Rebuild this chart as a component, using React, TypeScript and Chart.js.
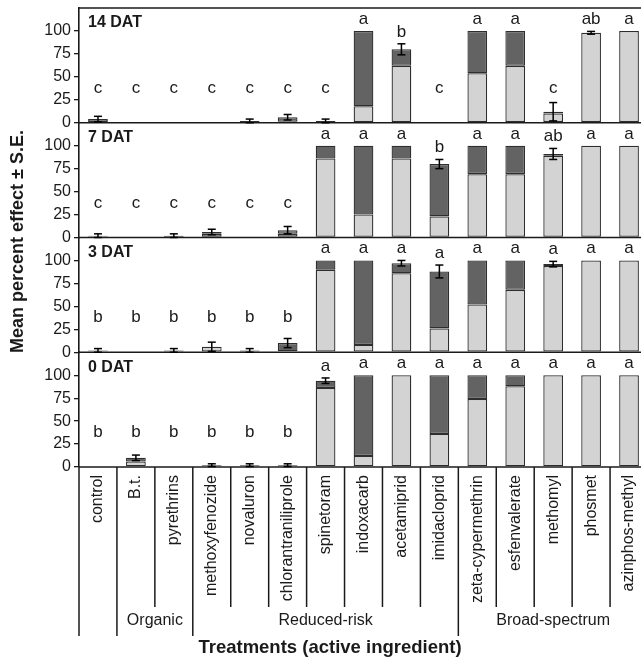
import { useEffect, useRef } from 'react';
import { Chart, registerables } from 'chart.js';

Chart.register(...registerables);

const FONT = '"Liberation Sans", Arial, Helvetica, sans-serif';

const categories = [
  'control', 'B.t.', 'pyrethrins', 'methoxyfenozide', 'novaluron', 'chlorantraniliprole',
  'spinetoram', 'indoxacarb', 'acetamiprid', 'imidacloprid', 'zeta-cypermethrin',
  'esfenvalerate', 'methomyl', 'phosmet', 'azinphos-methyl',
];

const groupNames = ['', 'Organic', 'Reduced-risk', 'Broad-spectrum'];
const groupStarts = [0, 1, 3, 10];

const yTicks = [0, 25, 50, 75, 100];

// 14 DAT
const light14 = [4, 0, 0, 0, 2, 1, 2, 18, 62, 0, 54, 62, 10, 98, 100];
const dark14 = [0, 0, 0, 0, 0, 5, 0, 82, 18, 0, 46, 38, 2, 0, 0];
const err14 = [3, 0, 0, 0, 2, 3, 2, 0, 6, 0, 0, 0, 10, 1.5, 0];
const letters14 = ['c', 'c', 'c', 'c', 'c', 'c', 'c', 'a', 'b', 'c', 'a', 'a', 'c', 'ab', 'a'];

// 7 DAT
const light7 = [1, 0, 2, 4, 0, 4, 86, 25, 86, 23, 69, 69, 89, 100, 100];
const dark7 = [1, 0, 0, 2, 0, 4, 14, 75, 14, 57, 31, 31, 2, 0, 0];
const err7 = [2, 0, 2, 3, 0, 4, 0, 0, 0, 5, 0, 0, 6, 0, 0];
const letters7 = ['c', 'c', 'c', 'c', 'c', 'c', 'a', 'a', 'a', 'b', 'a', 'a', 'ab', 'a', 'a'];

// 3 DAT
const light3 = [1, 0, 2, 6, 2, 1, 90, 8, 86, 26, 52, 68, 94, 100, 100];
const dark3 = [1, 0, 0, 0, 0, 9, 10, 92, 11, 62, 48, 32, 2, 0, 0];
const err3 = [2, 0, 2, 5, 2, 5, 0, 0, 3, 7, 0, 0, 3, 0, 0];
const letters3 = ['b', 'b', 'b', 'b', 'b', 'b', 'a', 'a', 'a', 'a', 'a', 'a', 'a', 'a', 'a'];

// 0 DAT
const light0 = [0, 6, 0, 1, 1, 1, 86, 12, 100, 36, 74, 88, 100, 100, 100];
const dark0 = [0, 4, 0, 1, 1, 1, 8, 88, 0, 64, 26, 12, 0, 0, 0];
const err0 = [0, 3, 0, 1.5, 1.5, 1.5, 3, 0, 0, 0, 0, 0, 0, 0, 0];
const letters0 = ['b', 'b', 'b', 'b', 'b', 'b', 'a', 'a', 'a', 'a', 'a', 'a', 'a', 'a', 'a'];

const panelLabels = ['14 DAT', '7 DAT', '3 DAT', '0 DAT'];

const LIGHT = '#d3d3d3';
const DARK = '#636363';
const EDGE = '#2e2e2e';
const INK = '#1a1a1a';

export default function App() {
  const ref = useRef<HTMLCanvasElement>(null);

  useEffect(() => {
    const canvas = ref.current;
    if (!canvas) return;

    const panels = [
      { label: panelLabels[0], light: light14, dark: dark14, err: err14, letters: letters14 },
      { label: panelLabels[1], light: light7, dark: dark7, err: err7, letters: letters7 },
      { label: panelLabels[2], light: light3, dark: dark3, err: err3, letters: letters3 },
      { label: panelLabels[3], light: light0, dark: dark0, err: err0, letters: letters0 },
    ];

    const scales: any = {
      x: { type: 'category', display: false, offset: true, stacked: true },
    };
    // bottom panel defined first (stacked axes are laid out bottom-up)
    [3, 2, 1, 0].forEach((pi) => {
      scales['y' + pi] = {
        type: 'linear',
        position: 'left',
        stack: 'panels',
        stackWeight: 1,
        stacked: true,
        min: 0,
        max: 125,
        afterBuildTicks: (s: any) => {
          s.ticks = yTicks.map((v) => ({ value: v }));
        },
        afterFit: (s: any) => {
          s.width = 79;
          s.paddingTop = 0;
          s.paddingBottom = 0;
        },
        ticks: {
          autoSkip: false,
          color: INK,
          padding: 3,
          font: { family: FONT, size: 16 },
        },
        grid: {
          drawOnChartArea: false,
          drawTicks: true,
          tickLength: 5,
          color: INK,
          lineWidth: 1.3,
        },
        border: { display: true, color: INK, width: 1.6 },
      };
    });

    const datasets: any[] = [];
    panels.forEach((p, pi) => {
      datasets.push({
        label: p.label + ' light',
        data: p.light,
        yAxisID: 'y' + pi,
        stack: 's' + pi,
        grouped: false,
        backgroundColor: LIGHT,
        borderColor: EDGE,
        borderWidth: 1.3,
        borderSkipped: false,
        barPercentage: 0.52,
        categoryPercentage: 1,
      });
      datasets.push({
        label: p.label + ' dark',
        data: p.dark,
        yAxisID: 'y' + pi,
        stack: 's' + pi,
        grouped: false,
        backgroundColor: DARK,
        borderColor: EDGE,
        borderWidth: 1.3,
        borderSkipped: false,
        barPercentage: 0.52,
        categoryPercentage: 1,
      });
    });

    const line = (ctx: CanvasRenderingContext2D, x1: number, y1: number, x2: number, y2: number) => {
      ctx.beginPath();
      ctx.moveTo(x1, y1);
      ctx.lineTo(x2, y2);
      ctx.stroke();
    };

    const overlay = {
      id: 'overlay',
      afterDatasetsDraw(chart: any) {
        const ctx: CanvasRenderingContext2D = chart.ctx;
        const area = chart.chartArea;
        const xs = chart.scales.x;
        const step = (area.right - area.left) / categories.length;
        ctx.save();
        panels.forEach((p, pi) => {
          const ys = chart.scales['y' + pi];
          // panel frame lines
          ctx.strokeStyle = INK;
          ctx.lineWidth = 1.6;
          line(ctx, area.left, ys.getPixelForValue(0), area.right, ys.getPixelForValue(0));
          if (pi === 0) line(ctx, area.left, ys.top, area.right, ys.top);

          // panel label
          ctx.fillStyle = INK;
          ctx.font = `bold 16px ${FONT}`;
          ctx.textAlign = 'left';
          ctx.textBaseline = 'middle';
          ctx.fillText(p.label, area.left + 9, ys.top + 15);

          // error bars + letters
          categories.forEach((_, i) => {
            const total = p.light[i] + p.dark[i];
            const e = p.err[i];
            const cx = xs.getPixelForValue(i);
            if (e > 0) {
              ctx.strokeStyle = '#000';
              ctx.lineWidth = 1.5;
              const yHi = ys.getPixelForValue(total + e);
              const yLo = ys.getPixelForValue(Math.max(0, total - e));
              line(ctx, cx, yHi, cx, yLo);
              line(ctx, cx - 4, yHi, cx + 4, yHi);
              line(ctx, cx - 4, yLo, cx + 4, yLo);
            }
            const base = Math.max(total + e, 25);
            ctx.fillStyle = INK;
            ctx.font = `17px ${FONT}`;
            ctx.textAlign = 'center';
            ctx.textBaseline = 'alphabetic';
            ctx.fillText(p.letters[i], cx, ys.getPixelForValue(base) - 7);
          });
        });

        // bottom category area
        const bottom = area.bottom;
        ctx.strokeStyle = INK;
        ctx.lineWidth = 1.5;
        for (let i = 0; i <= categories.length; i++) {
          const x = area.left + i * step;
          const long = groupStarts.includes(i);
          line(ctx, x, bottom, x, bottom + (long ? 169 : 140));
        }
        ctx.fillStyle = INK;
        ctx.font = `16px ${FONT}`;
        categories.forEach((c, i) => {
          const cx = xs.getPixelForValue(i);
          ctx.save();
          ctx.translate(cx, bottom + 8);
          ctx.rotate(-Math.PI / 2);
          ctx.textAlign = 'right';
          ctx.textBaseline = 'middle';
          ctx.fillText(c, 0, 0);
          ctx.restore();
        });
        groupNames.forEach((g, gi) => {
          if (!g) return;
          const s = groupStarts[gi];
          const e = gi + 1 < groupStarts.length ? groupStarts[gi + 1] : categories.length;
          const cx = area.left + ((s + e) / 2) * step;
          ctx.textAlign = 'center';
          ctx.textBaseline = 'middle';
          ctx.fillText(g, cx, bottom + 154);
        });

        // axis titles
        ctx.font = `bold 18.5px ${FONT}`;
        ctx.textAlign = 'center';
        ctx.textBaseline = 'middle';
        ctx.fillText('Treatments (active ingredient)', chart.width / 2, bottom + 181);
        ctx.save();
        ctx.translate(18, (area.top + area.bottom) / 2 + 4);
        ctx.rotate(-Math.PI / 2);
        ctx.font = `bold 18px ${FONT}`;
        ctx.fillText('Mean percent effect \u00b1 S.E.', 0, 0);
        ctx.restore();
        ctx.restore();
      },
    };

    const chart = new Chart(canvas, {
      type: 'bar',
      data: { labels: categories, datasets },
      options: {
        responsive: false,
        animation: false,
        layout: { padding: { top: 8, bottom: 192, left: 0, right: 12 } },
        plugins: { legend: { display: false }, tooltip: { enabled: false } },
        scales,
      },
      plugins: [overlay],
    } as any);

    return () => chart.destroy();
  }, []);

  return (
    <div
      style={{
        position: 'fixed',
        left: 0,
        top: 0,
        width: 641,
        height: 659,
        overflow: 'hidden',
        background: '#fff',
      }}
    >
      <canvas ref={ref} width={660} height={659} style={{ display: 'block', width: 660, height: 659 }} />
    </div>
  );
}
